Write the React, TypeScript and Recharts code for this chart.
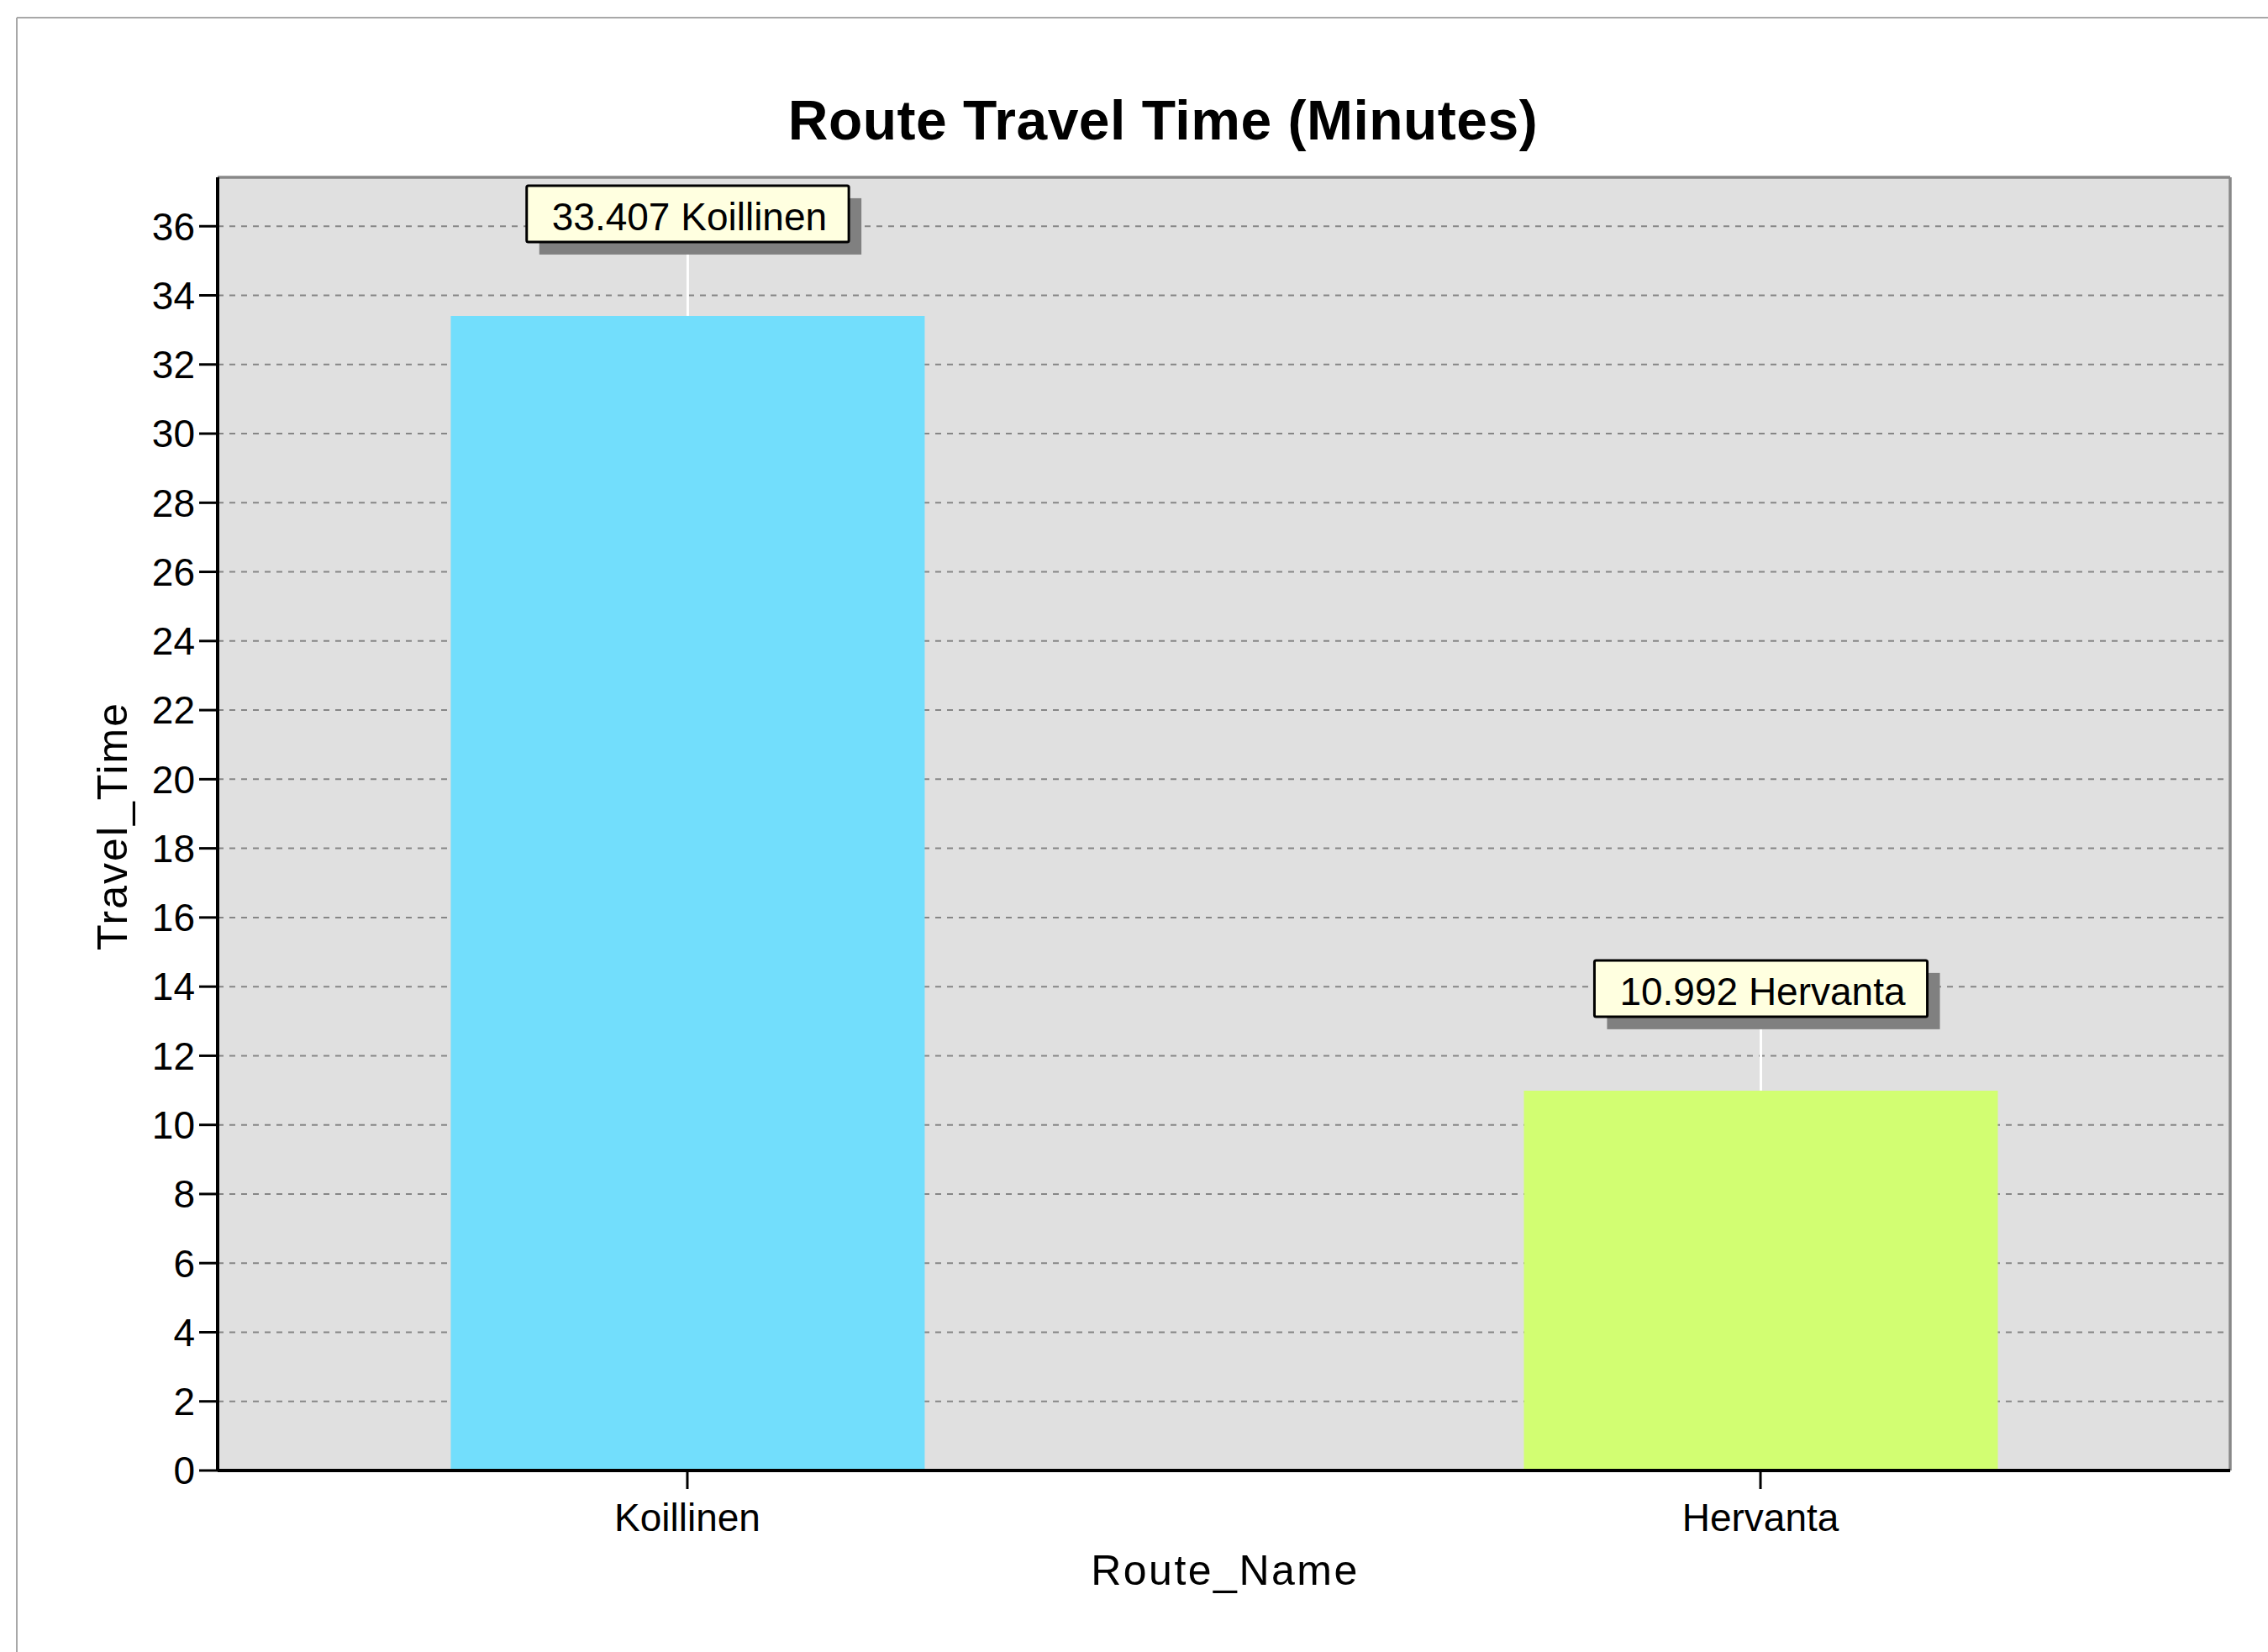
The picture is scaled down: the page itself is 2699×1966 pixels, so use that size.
import React from 'react';
import {
  BarChart,
  Bar,
  XAxis,
  YAxis,
  CartesianGrid,
  LabelList,
  ReferenceLine,
  Cell,
} from 'recharts';

// Route data
const routeNames = ['Koillinen', 'Hervanta'];
const travelTimes = [33.407, 10.992];
const barColors = ['#72DEFC', '#D2FE72'];

// Axis settings
const yTicks = [0, 2, 4, 6, 8, 10, 12, 14, 16, 18, 20, 22, 24, 26, 28, 30, 32, 34, 36];
const yMax = 37.416;
const xTicks = [0, 1];
const xDomain: [number, number] = [-0.4377, 1.4377];

const data = routeNames.map((name, i) => ({
  pos: i,
  name,
  time: travelTimes[i],
  tag: `${travelTimes[i].toFixed(3)} ${name}`,
}));

const FONT = "'Liberation Sans', Arial, Helvetica, sans-serif";
const W = 2699;
const H = 1966;

function measureText(text: string, size: number): number {
  const ctx = document.createElement('canvas').getContext('2d');
  if (!ctx) return text.length * size * 0.55;
  ctx.font = `${size}px ${FONT}`;
  return ctx.measureText(text).width;
}

// Callout box above each bar: leader line, drop shadow, yellow box with text
const CalloutLabel = (props: any) => {
  const { x, y, width, value } = props;
  const cx = Number(x) + Number(width) / 2;
  const barTop = Number(y);
  const text = String(value);
  const fontSize = 46;
  const boxW = measureText(text, fontSize) + 56;
  const boxH = 67;
  const boxBottom = barTop - 88;
  const boxTop = boxBottom - boxH;
  const boxLeft = cx - boxW / 2;
  return (
    <g>
      <line x1={cx} y1={barTop} x2={cx} y2={boxTop + boxH / 2} stroke="#ffffff" strokeWidth={3} />
      <rect x={boxLeft + 15} y={boxTop + 15} width={boxW} height={boxH} fill="#808080" />
      <rect
        x={boxLeft}
        y={boxTop}
        width={boxW}
        height={boxH}
        rx={2}
        fill="#FFFFE0"
        stroke="#000000"
        strokeWidth={3}
      />
      <text
        x={cx + 2}
        y={boxTop + 53}
        textAnchor="middle"
        fontSize={fontSize}
        fontFamily={FONT}
        fill="#000000"
      >
        {text}
      </text>
    </g>
  );
};

export default function App() {
  return (
    <div
      style={{
        position: 'absolute',
        left: 0,
        top: 0,
        width: W,
        height: H,
        overflow: 'hidden',
        background: '#ffffff',
      }}
    >
      {/* frame, title and axis titles */}
      <svg width={W} height={H} style={{ position: 'absolute', left: 0, top: 0 }}>
        <line x1={20} y1={21} x2={W} y2={21} stroke="#a8a8a8" strokeWidth={2} />
        <line x1={20} y1={21} x2={20} y2={H} stroke="#a8a8a8" strokeWidth={2} />
        <text
          x={1384}
          y={166}
          textAnchor="middle"
          fontSize={66}
          fontWeight="bold"
          fontFamily={FONT}
          letterSpacing={0.5}
          fill="#000000"
        >
          Route Travel Time (Minutes)
        </text>
        <text
          x={1458}
          y={1886}
          textAnchor="middle"
          fontSize={50}
          fontFamily={FONT}
          letterSpacing={2.5}
          fill="#000000"
        >
          Route_Name
        </text>
        <text
          x={151}
          y={983}
          transform="rotate(-90, 151, 983)"
          textAnchor="middle"
          fontSize={50}
          fontFamily={FONT}
          letterSpacing={2}
          fill="#000000"
        >
          Travel_Time
        </text>
      </svg>

      <div style={{ position: 'absolute', left: 0, top: 0 }}>
        <BarChart
          width={W}
          height={H}
          data={data}
          margin={{ top: 211, right: 45, bottom: 16, left: 19 }}
        >
          <CartesianGrid
            vertical={false}
            fill="#E0E0E0"
            fillOpacity={1}
            stroke="#868686"
            strokeWidth={2}
            strokeDasharray="7 7"
          />
          <XAxis
            type="number"
            dataKey="pos"
            domain={xDomain}
            ticks={xTicks}
            interval={0}
            allowDataOverflow
            tickFormatter={(v: number) => routeNames[v] ?? ''}
            height={200}
            tickSize={22}
            tickMargin={17}
            axisLine={{ stroke: '#000000', strokeWidth: 4 }}
            tickLine={{ stroke: '#000000', strokeWidth: 3 }}
            tick={{ fill: '#000000', fontSize: 46, fontFamily: FONT }}
          />
          <YAxis
            type="number"
            domain={[0, yMax]}
            ticks={yTicks}
            interval={0}
            allowDataOverflow
            width={240}
            tickSize={22}
            tickMargin={5}
            axisLine={{ stroke: '#000000', strokeWidth: 4 }}
            tickLine={{ stroke: '#000000', strokeWidth: 3 }}
            tick={{ fill: '#000000', fontSize: 46, fontFamily: FONT }}
          />
          <ReferenceLine y={yMax} stroke="#888888" strokeWidth={3.5} />
          <ReferenceLine x={xDomain[1]} stroke="#888888" strokeWidth={3.5} />
          <Bar dataKey="time" barSize={564} isAnimationActive={false}>
            {data.map((d, i) => (
              <Cell key={d.name} fill={barColors[i]} />
            ))}
            <LabelList dataKey="tag" content={CalloutLabel} />
          </Bar>
        </BarChart>
      </div>
    </div>
  );
}
